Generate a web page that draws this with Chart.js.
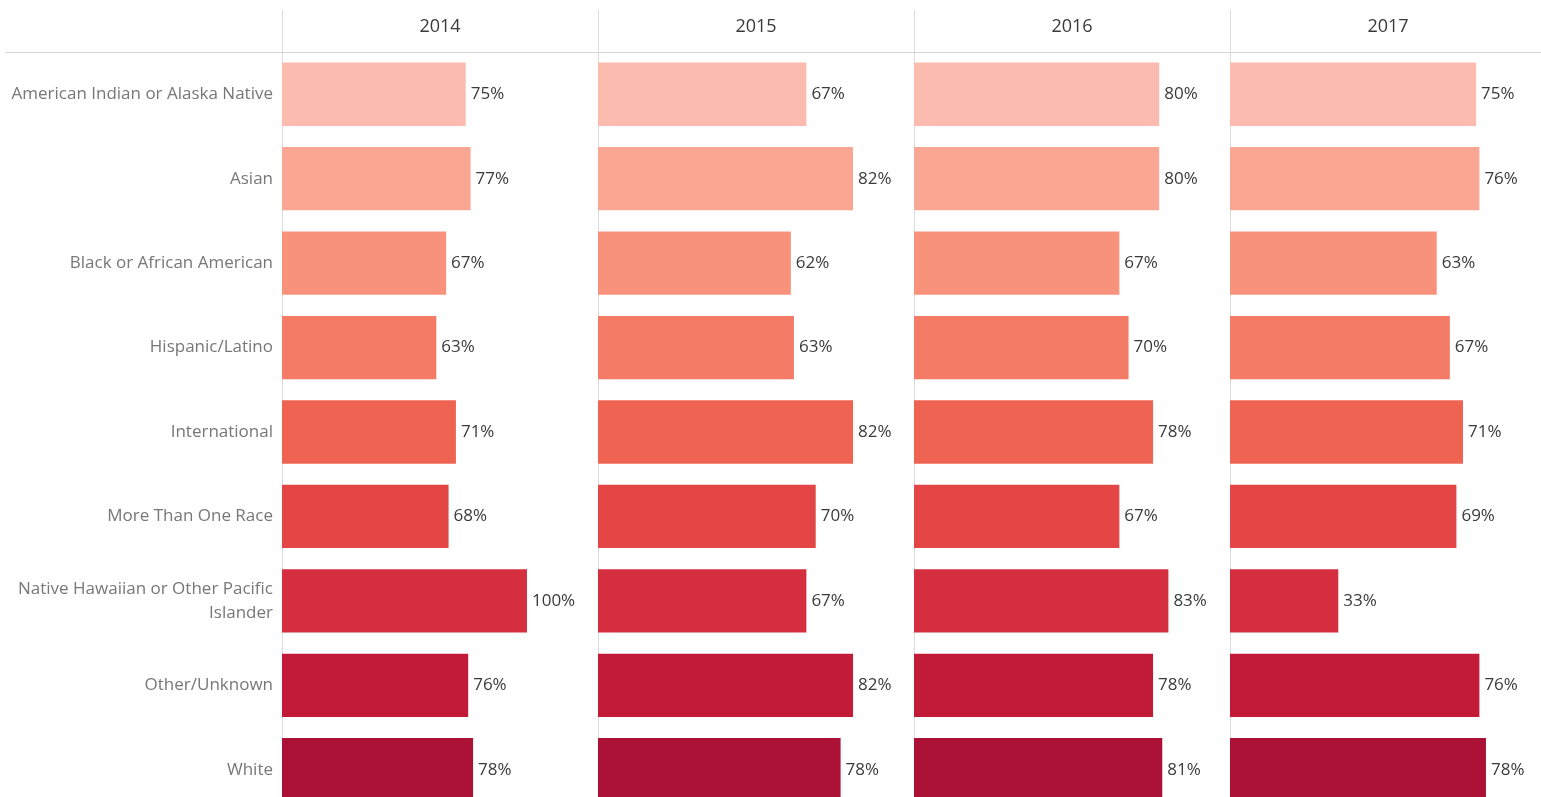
<!DOCTYPE html>
<html>
<head>
<meta charset="utf-8">
<script src="https://cdn.jsdelivr.net/npm/chart.js@4.4.1/dist/chart.umd.min.js"></script>
<style>
  html, body { margin: 0; padding: 0; background: #fff; overflow: hidden; }
  #wrap { position: relative; width: 1541px; height: 797px; overflow: hidden; }
  #wrap canvas { position: absolute; top: 0; }
</style>
</head>
<body>
<div id="wrap">
  <canvas id="p0" width="598" height="812" style="left:0"></canvas>
  <canvas id="p1" width="316" height="812" style="left:598px"></canvas>
  <canvas id="p2" width="316" height="812" style="left:914px"></canvas>
  <canvas id="p3" width="316" height="812" style="left:1230px"></canvas>
</div>
<script>
const years = ['2014', '2015', '2016', '2017'];
const categories = [
  'American Indian or Alaska Native',
  'Asian',
  'Black or African American',
  'Hispanic/Latino',
  'International',
  'More Than One Race',
  ['Native Hawaiian or Other Pacific', 'Islander'],
  'Other/Unknown',
  'White',
];
const rate2014 = [75, 77, 67, 63, 71, 68, 100, 76, 78];
const rate2015 = [67, 82, 62, 63, 82, 70, 67, 82, 78];
const rate2016 = [80, 80, 67, 70, 78, 67, 83, 78, 81];
const rate2017 = [75, 76, 63, 67, 71, 69, 33, 76, 78];
const rates = [rate2014, rate2015, rate2016, rate2017];

// each panel has its own independent axis range
const axisMax = [129, 101.6, 103.1, 96.3];

const barColors = ['#fbbbae', '#f9a693', '#f8927b', '#f47c66', '#ee6352', '#e44646', '#d52e3e', '#c21b38', '#aa1135'];
const FONT = '"Open Sans", "DejaVu Sans", sans-serif';

const panelLines = {
  id: 'panelLines',
  beforeDraw(chart, args, opts) {
    const { ctx, chartArea } = chart;
    ctx.save();
    ctx.lineWidth = 1;
    ctx.strokeStyle = '#d4d4d4';
    ctx.beginPath();
    ctx.moveTo(opts.lineStart || 0, Math.round(chartArea.top) + 0.5);
    ctx.lineTo(chart.width, Math.round(chartArea.top) + 0.5);
    ctx.stroke();
    ctx.strokeStyle = '#dcdcdc';
    ctx.beginPath();
    ctx.moveTo(Math.round(chartArea.left) + 0.5, 10);
    ctx.lineTo(Math.round(chartArea.left) + 0.5, chart.height);
    ctx.stroke();
    ctx.restore();
  },
};

const valueLabels = {
  id: 'valueLabels',
  afterDatasetsDraw(chart) {
    const { ctx } = chart;
    const meta = chart.getDatasetMeta(0);
    const values = chart.data.datasets[0].data;
    ctx.save();
    ctx.font = '17px ' + FONT;
    ctx.fillStyle = '#3a3a3a';
    ctx.textAlign = 'left';
    ctx.textBaseline = 'middle';
    meta.data.forEach((bar, i) => {
      ctx.fillText(values[i] + '%', bar.x + 5, bar.y);
    });
    ctx.restore();
  },
};

function makePanel(idx) {
  const withLabels = idx === 0;
  new Chart(document.getElementById('p' + idx), {
    type: 'bar',
    data: {
      labels: categories,
      datasets: [{
        data: rates[idx],
        backgroundColor: barColors,
        borderWidth: 0,
        categoryPercentage: 1,
        barPercentage: 0.75,
      }],
    },
    options: {
      indexAxis: 'y',
      responsive: false,
      animation: false,
      layout: { padding: 0 },
      plugins: {
        legend: { display: false },
        tooltip: { enabled: false },
        panelLines: { lineStart: withLabels ? 5 : 0 },
      },
      scales: {
        x: {
          position: 'top',
          min: 0,
          max: axisMax[idx],
          grid: { display: false },
          border: { display: false },
          ticks: { display: false },
          title: {
            display: true,
            text: years[idx],
            color: '#3a3a3a',
            font: { family: FONT, size: 18 },
            padding: { top: 16, bottom: 0 },
          },
          afterFit: s => {
            s.height = 52;
            s.paddingLeft = 0;
            s.paddingRight = 0;
          },
        },
        y: {
          display: withLabels,
          grid: { display: false },
          border: { display: false },
          ticks: {
            color: '#777',
            padding: 1,
            font: { family: FONT, size: 17, lineHeight: 1.4 },
          },
          afterFit: s => {
            s.width = withLabels ? 282 : 0;
            s.paddingTop = 0;
            s.paddingBottom = 0;
          },
        },
      },
    },
    plugins: [panelLines, valueLabels],
  });
}

years.forEach((y, i) => makePanel(i));
</script>
</body>
</html>
